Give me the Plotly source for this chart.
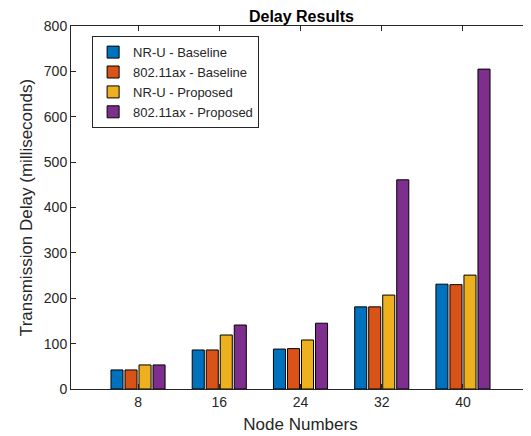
import plotly.graph_objects as go

categories = ["8", "16", "24", "32", "40"]
nru_baseline = [42, 86, 88, 181, 231]
ax_baseline = [42, 86, 89, 181, 230]
nru_proposed = [53, 119, 108, 207, 251]
ax_proposed = [53, 141, 145, 461, 705]

series = [
    ("NR-U - Baseline", nru_baseline, "#0072BD"),
    ("802.11ax - Baseline", ax_baseline, "#D95319"),
    ("NR-U - Proposed", nru_proposed, "#EDB120"),
    ("802.11ax - Proposed", ax_proposed, "#7E2F8E"),
]

fig = go.Figure()
for name, vals, col in series:
    fig.add_trace(go.Bar(
        x=list(range(len(categories))), y=vals, name=name,
        marker=dict(color=col, line=dict(color="black", width=1)),
    ))

font = "Liberation Sans, Arial, sans-serif"
fig.update_layout(
    width=523, height=428,
    margin=dict(l=63, r=1, t=18, b=47),
    paper_bgcolor="white", plot_bgcolor="white",
    barmode="group", bargap=0.31, bargroupgap=0.14,
    font=dict(family=font, size=14, color="#262626"),
    title=dict(text="<b>Delay Results</b>", x=0.561, xanchor="center",
               y=1 - 8.5 / 428, yanchor="middle",
               font=dict(size=16, color="black")),
    legend=dict(x=0.046, y=0.972, xanchor="left", yanchor="top",
                bordercolor="#262626", borderwidth=1, bgcolor="white",
                font=dict(size=13, color="#262626"), tracegroupgap=0,
                itemwidth=30),
    xaxis=dict(
        tickmode="array", tickvals=list(range(len(categories))), ticktext=categories,
        range=[-0.825, 4.825], showline=True, linecolor="#262626", linewidth=1, mirror="ticks",
        ticks="inside", ticklen=5, tickcolor="#262626", showgrid=False, zeroline=False,
        automargin=False,
        title=dict(text="Node Numbers", font=dict(size=17), standoff=9),
    ),
    yaxis=dict(
        range=[0, 800], dtick=100, showline=True, linecolor="#262626", linewidth=1, mirror="ticks",
        ticks="inside", ticklen=5, tickcolor="#262626", showgrid=False, zeroline=False,
        automargin=False,
        title=dict(text="Transmission Delay (milliseconds)", font=dict(size=17), standoff=6),
    ),
)

fig.write_html("out.html")
